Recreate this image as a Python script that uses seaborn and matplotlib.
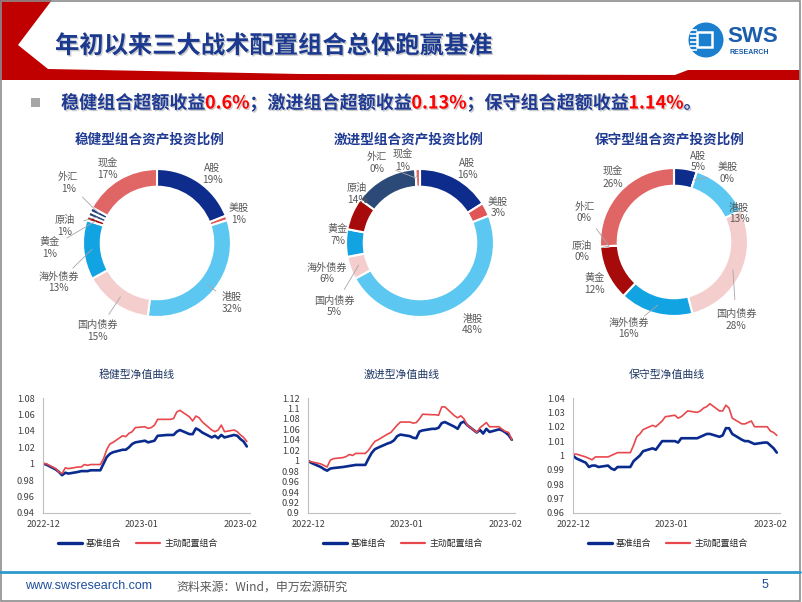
import numpy as np
import pandas as pd
import seaborn as sns
import matplotlib.pyplot as plt
import matplotlib.dates as mdates
import matplotlib.patheffects as pe
from matplotlib.patches import Polygon, Rectangle, Circle
from matplotlib.ticker import FuncFormatter, MultipleLocator

# ---------------- data ----------------
assets = ["A股", "美股", "港股", "国内债券", "海外债券", "黄金", "原油", "外汇", "现金"]
steady_alloc = [19, 1, 32, 15, 13, 1, 1, 1, 17]
aggressive_alloc = [16, 3, 48, 5, 6, 7, 14, 0, 1]
conservative_alloc = [5, 0, 13, 28, 16, 12, 0, 0, 26]

dates = pd.bdate_range("2022-12-01", "2023-02-03")

steady_bench = [1.000, 0.999, 0.993, 0.990, 0.986, 0.989, 0.988, 0.990, 0.991, 0.991, 0.991,
                0.992, 0.992, 1.000, 1.008, 1.012, 1.014, 1.017, 1.017, 1.020, 1.024, 1.026,
                1.028, 1.026, 1.027, 1.028, 1.034, 1.035, 1.035, 1.035, 1.039, 1.041, 1.036,
                1.036, 1.043, 1.041, 1.038, 1.032, 1.034, 1.031, 1.035, 1.032, 1.035, 1.034,
                1.030, 1.027, 1.021]
steady_active = [1.000, 1.000, 0.994, 0.990, 0.988, 0.995, 0.994, 0.996, 0.996, 0.999, 0.998,
                 0.999, 0.999, 1.006, 1.017, 1.024, 1.026, 1.034, 1.033, 1.037, 1.039, 1.044,
                 1.045, 1.043, 1.044, 1.047, 1.054, 1.054, 1.054, 1.055, 1.063, 1.065, 1.057,
                 1.052, 1.058, 1.056, 1.051, 1.041, 1.039, 1.041, 1.047, 1.039, 1.041, 1.039,
                 1.035, 1.032, 1.027]

aggressive_bench = [1.000, 0.996, 0.988, 0.984, 0.981, 0.985, 0.986, 0.988, 0.989, 0.990, 0.991,
                    0.992, 0.992, 1.004, 1.015, 1.022, 1.025, 1.033, 1.035, 1.039, 1.047, 1.050,
                    1.047, 1.044, 1.043, 1.056, 1.058, 1.061, 1.061, 1.063, 1.072, 1.074, 1.065,
                    1.061, 1.072, 1.075, 1.068, 1.054, 1.059, 1.052, 1.061, 1.055, 1.060, 1.058,
                    1.054, 1.049, 1.040]
aggressive_active = [1.000, 0.998, 0.994, 0.991, 0.988, 1.001, 1.004, 1.006, 1.008, 1.012, 1.010,
                     1.014, 1.014, 1.020, 1.029, 1.037, 1.040, 1.051, 1.054, 1.061, 1.068, 1.074,
                     1.074, 1.072, 1.073, 1.080, 1.089, 1.088, 1.088, 1.087, 1.103, 1.103, 1.086,
                     1.082, 1.086, 1.080, 1.068, 1.054, 1.063, 1.068, 1.073, 1.065, 1.065, 1.060,
                     1.056, 1.054, 1.040]

conservative_bench = [1.000, 0.998, 0.995, 0.992, 0.993, 0.993, 0.992, 0.993, 0.991, 0.990, 0.992,
                      0.992, 0.992, 0.996, 0.998, 1.000, 1.003, 1.005, 1.004, 1.007, 1.010, 1.010,
                      1.010, 1.009, 1.012, 1.012, 1.012, 1.012, 1.013, 1.014, 1.015, 1.015, 1.013,
                      1.014, 1.019, 1.019, 1.015, 1.011, 1.010, 1.010, 1.009, 1.008, 1.009, 1.009,
                      1.007, 1.005, 1.002]
conservative_active = [1.001, 1.001, 0.999, 0.998, 0.997, 0.999, 0.999, 0.999, 1.000, 1.001, 1.002,
                       1.002, 1.002, 1.007, 1.013, 1.015, 1.018, 1.021, 1.020, 1.022, 1.024, 1.027,
                       1.028, 1.026, 1.027, 1.029, 1.031, 1.030, 1.031, 1.033, 1.034, 1.036, 1.031,
                       1.031, 1.035, 1.033, 1.026, 1.022, 1.022, 1.023, 1.024, 1.020, 1.020, 1.020,
                       1.017, 1.016, 1.014]

bench_name = "基准组合"
active_name = "主动配置组合"

# ---------------- style ----------------
sns.set_theme(style="white")
plt.rcParams["font.family"] = ["Noto Sans CJK SC", "DejaVu Sans"]

asset_colors = ["#0D2C8C", "#E05555", "#5CC8F2", "#F4CDCD", "#12A3E3",
                "#A60A0A", "#2C4A78", "#203B7E", "#E06666"]
navy = "#0A2B8E"
red = "#E8474C"
title_blue = "#1F3A93"
label_gray = "#595959"

W, H = 802, 602
fig = plt.figure(figsize=(W / 100, H / 100), dpi=100)


def fx(x):
    return x / W


def fy(y):
    return 1 - y / H


# background / frame layer in pixel coordinates
bg = fig.add_axes([0, 0, 1, 1])
bg.set_xlim(0, W)
bg.set_ylim(H, 0)
bg.axis("off")
bg.set_zorder(-5)

header = [(0, 0), (52, 0), (18, 45), (48, 69), (300, 74), (675, 75), (688, 70),
          (800, 70), (800, 80), (0, 80)]
bg.add_patch(Polygon(header, closed=True, facecolor="#C00000", edgecolor="none"))
bg.add_patch(Rectangle((0.5, 0.5), 799, 600.5, fill=False, edgecolor="#8C8C8C", lw=1.2))
bg.plot([0, 800], [572, 572], color="#2F9ACB", lw=2)

# logo
bg.add_patch(Circle((706, 40), 17.5, facecolor="#1B7FD0", edgecolor="none"))
bg.add_patch(Rectangle((697, 32), 15, 15, fill=False, edgecolor="white", lw=1.8))
for yy in [30, 34, 38, 42, 46, 50]:
    bg.plot([690, 697], [yy, yy], color="white", lw=1.2, solid_capstyle="butt")
fig.text(fx(727), fy(37), "SWS", family=["Liberation Sans", "DejaVu Sans"], fontsize=16,
         fontweight="bold", color="#1B5DAA", va="center", ha="left")
fig.text(fx(729), fy(52), "RESEARCH", family=["Liberation Sans", "DejaVu Sans"], fontsize=5,
         fontweight="bold", color="#1B5DAA", va="center", ha="left")

shadow = [pe.SimplePatchShadow(offset=(1, -1), shadow_rgbFace="#9a9a9a", alpha=0.5), pe.Normal()]

fig.text(fx(55), fy(46), "年初以来三大战术配置组合总体跑赢基准", fontsize=17.5,
         fontweight="bold", color="#1B3A8F", va="center", ha="left", path_effects=shadow)

# bullet line with coloured numbers
bg.add_patch(Rectangle((31, 98), 9, 9, facecolor="#A6A6A6", edgecolor="none"))
segments = [("稳健组合超额收益", title_blue), ("0.6%", "#FF0000"),
            ("；激进组合超额收益", title_blue), ("0.13%", "#FF0000"),
            ("；保守组合超额收益", title_blue), ("1.14%", "#FF0000"), ("。", title_blue)]
renderer = fig.canvas.get_renderer()
x0 = 61
for txt, col in segments:
    t = fig.text(fx(x0), fy(103), txt, fontsize=13, fontweight="bold", color=col,
                 va="center", ha="left", path_effects=shadow)
    x0 += t.get_window_extent(renderer=renderer).width

# ---------------- donuts ----------------
R = 74
steady_labels = [(0.75, 0.93), (1.11, 0.39), (1.01, -0.81), (-0.80, -1.19), (-1.33, -0.53),
                 (-1.45, -0.07), (-1.25, 0.23), (-1.20, 0.81), (-0.67, 1.00)]
aggressive_labels = [(0.64, 1.00), (1.05, 0.48), (0.71, -1.10), (-1.16, -0.86), (-1.26, -0.41),
                     (-1.11, 0.11), (-0.85, 0.66), (-0.58, 1.08), (-0.23, 1.11)]
conservative_labels = [(0.33, 1.09), (0.72, 0.93), (0.88, 0.39), (0.84, -1.05), (-0.61, -1.17),
                       (-1.08, -0.57), (-1.24, -0.13), (-1.21, 0.40), (-0.83, 0.87)]
steady_leaders = {"港股", "国内债券", "海外债券", "黄金", "原油", "外汇"}
aggressive_leaders = {"国内债券", "外汇", "现金"}
conservative_leaders = {"美股", "国内债券", "海外债券", "原油", "外汇"}


def donut(cx, cy, values, title, title_x, label_pos, leaders):
    half = 120
    ax = fig.add_axes([fx(cx - half), fy(cy + half), 2 * half / W, 2 * half / H])
    ax.pie(values, colors=asset_colors, startangle=90, counterclock=False, radius=1,
           wedgeprops=dict(width=0.24, edgecolor="white", linewidth=1.5))
    lim = half / R
    ax.set_xlim(-lim, lim)
    ax.set_ylim(-lim, lim)
    ax.set_aspect("equal")
    ax.axis("off")
    total = float(sum(values))
    cum = 0.0
    for name, v, (lx, ly) in zip(assets, values, label_pos):
        mid = np.deg2rad(90 - 360 * (cum + v / 2) / total)
        cum += v
        if name in leaders:
            px, py = 0.88 * np.cos(mid), 0.88 * np.sin(mid)
            d = np.hypot(lx - px, ly - py)
            k = max(0.0, 1 - 0.27 / d)
            ax.plot([px, px + (lx - px) * k], [py, py + (ly - py) * k],
                    color="#A6A6A6", lw=0.6, zorder=3)
        ax.text(lx, ly, f"{name}\n{v}%", ha="center", va="center", fontsize=7.3,
                color=label_gray, linespacing=1.2, zorder=4)
    fig.text(fx(title_x), fy(140), title, ha="center", va="center", fontsize=9.8,
             fontweight="bold", color=title_blue)


donut(157, 243, steady_alloc, "稳健型组合资产投资比例", 150, steady_labels, steady_leaders)
donut(420, 243, aggressive_alloc, "激进型组合资产投资比例", 409, aggressive_labels, aggressive_leaders)
donut(674, 242, conservative_alloc, "保守型组合资产投资比例", 670, conservative_labels,
      conservative_leaders)

# ---------------- NAV curves ----------------


def nav_chart(left, bench, active, title, ylo, yhi, ystep):
    ax = fig.add_axes([fx(left), fy(513), 207 / W, 115 / H])
    df = pd.DataFrame({"date": dates, bench_name: bench, active_name: active})
    df = df.melt(id_vars="date", var_name="组合", value_name="净值")
    sns.lineplot(data=df[df["组合"] == bench_name], x="date", y="净值", color=navy,
                 lw=1.9, ax=ax, label=bench_name)
    sns.lineplot(data=df[df["组合"] == active_name], x="date", y="净值", color=red,
                 lw=1.2, ax=ax, label=active_name)
    ax.set_xlim(pd.Timestamp("2022-12-01"), pd.Timestamp("2023-02-04"))
    ax.set_ylim(ylo, yhi)
    ax.yaxis.set_major_locator(MultipleLocator(ystep))
    ax.yaxis.set_major_formatter(FuncFormatter(lambda v, p: f"{round(v, 3):g}"))
    ax.xaxis.set_major_locator(mdates.MonthLocator())
    ax.xaxis.set_major_formatter(mdates.DateFormatter("%Y-%m"))
    ax.set_xlabel("")
    ax.set_ylabel("")
    for s in ["top", "right"]:
        ax.spines[s].set_visible(False)
    for s in ["left", "bottom"]:
        ax.spines[s].set_color("#BFBFBF")
        ax.spines[s].set_linewidth(0.8)
    ax.tick_params(axis="both", direction="out", length=3, width=0.7, color="#BFBFBF",
                   labelsize=6.6, labelcolor="#404040", pad=2)
    ax.tick_params(axis="y", pad=3)
    ax.patch.set_alpha(0)
    leg = ax.legend(loc="center", bbox_to_anchor=(0.5 - 9 / 207, -0.265), ncol=2,
                    frameon=False, fontsize=6.4, handlelength=2.7, columnspacing=1.6,
                    handletextpad=0.5)
    leg.get_lines()[0].set_linewidth(2.4)
    leg.get_lines()[1].set_linewidth(1.6)
    for t in leg.get_texts():
        t.set_color("#262626")
    fig.text(fx(left + 94), fy(375), title, ha="center", va="center", fontsize=7.8,
             color="#1F3864")


nav_chart(43, steady_bench, steady_active, "稳健型净值曲线", 0.94, 1.08, 0.02)
nav_chart(308, aggressive_bench, aggressive_active, "激进型净值曲线", 0.90, 1.12, 0.02)
nav_chart(573, conservative_bench, conservative_active, "保守型净值曲线", 0.96, 1.04, 0.01)

# ---------------- footer ----------------
fig.text(fx(25), fy(586), "www.swsresearch.com", family=["Liberation Sans", "DejaVu Sans"],
         fontsize=9, color="#1F4E9C", va="center", ha="left")
fig.text(fx(176), fy(587), "资料来源：Wind，申万宏源研究", fontsize=8.6, color=label_gray,
         va="center", ha="left")
fig.text(fx(765), fy(585), "5", family=["Liberation Sans", "DejaVu Sans"], fontsize=9,
         color="#1F4E9C", va="center", ha="center")

fig.savefig("out.png", dpi=100)
